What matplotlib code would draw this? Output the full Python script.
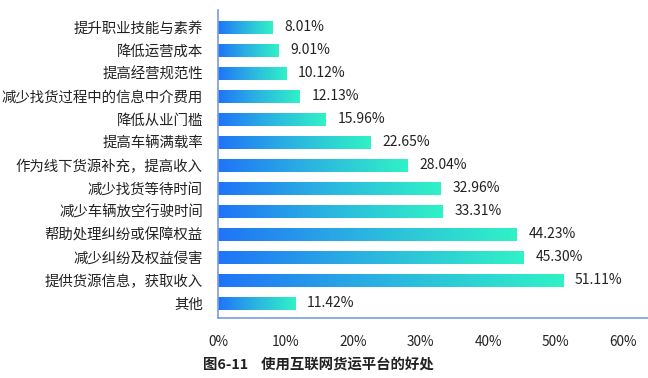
import matplotlib
matplotlib.use("Agg")
import matplotlib.pyplot as plt
import numpy as np
from matplotlib.colors import LinearSegmentedColormap

plt.rcParams['font.family'] = ['Noto Sans CJK SC', 'DejaVu Sans']

categories = ["提升职业技能与素养", "降低运营成本", "提高经营规范性", "减少找货过程中的信息中介费用",
              "降低从业门槛", "提高车辆满载率", "作为线下货源补充，提高收入", "减少找货等待时间",
              "减少车辆放空行驶时间", "帮助处理纠纷或保障权益", "减少纠纷及权益侵害",
              "提供货源信息，获取收入", "其他"]
values = [8.01, 9.01, 10.12, 12.13, 15.96, 22.65, 28.04, 32.96, 33.31, 44.23, 45.30, 51.11, 11.42]
xticks = [0, 10, 20, 30, 40, 50, 60]
title = "图6-11    使用互联网货运平台的好处"

cmap = LinearSegmentedColormap.from_list("g", ["#1F74F7", "#2BB6E0", "#30F2C6"])

fig = plt.figure(figsize=(6.48, 3.78), dpi=100)
ax = fig.add_axes([218/648, 1-318/378, 1-218/648, (318-10)/378])

y = np.arange(len(categories))
bars = ax.barh(y, values, height=0.57, color='none', edgecolor='none')
grad = np.linspace(0, 1, 256).reshape(1, -1)
for b, v in zip(bars, values):
    x0, y0 = b.get_x(), b.get_y()
    w, h = b.get_width(), b.get_height()
    im = ax.imshow(grad, extent=[x0, x0 + w, y0, y0 + h], aspect='auto', cmap=cmap,
                   interpolation='bicubic', zorder=2)
    im.set_clip_path(b)
    ax.text(v + 1.75, b.get_y() + h/2, f"{v:.2f}%", va='center', ha='left',
            fontsize=10, color='#222222')

ax.set_xlim(0, 63.7)
ax.set_ylim(len(categories) - 0.35, -0.75)
ax.set_yticks(y)
ax.set_yticklabels(categories, fontsize=10.4, color='#222222')
ax.set_xticks(xticks)
ax.set_xticklabels([f"{t}%" for t in xticks], fontsize=9.8, color='#222222')
ax.tick_params(axis='both', length=0)
ax.tick_params(axis='x', pad=12)
ax.tick_params(axis='y', pad=11)
for s in ['top', 'right']:
    ax.spines[s].set_visible(False)
for s in ['left', 'bottom']:
    ax.spines[s].set_color('#7B9BE0')
    ax.spines[s].set_linewidth(1.2)

fig.text(203/648, 1-365/378, title, fontsize=10.4, fontweight='bold', color='#222222',
         ha='left', va='center')

fig.savefig("out.png", dpi=100)
